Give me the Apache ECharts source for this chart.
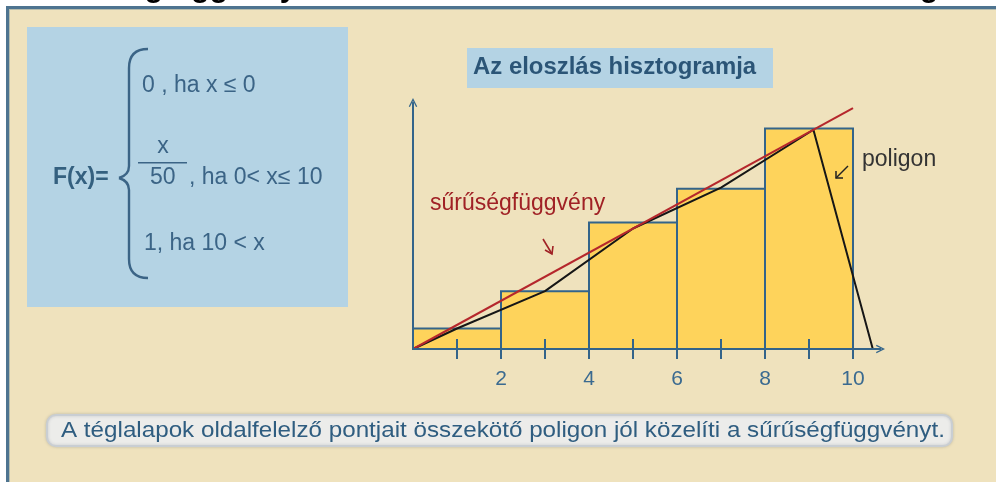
<!DOCTYPE html>
<html lang="hu">
<head>
  <meta charset="UTF-8">
  <title>Az eloszlás hisztogramja</title>
  <style>
    html, body { margin: 0; padding: 0; background: #fff; }
  </style>
</head>
<body>
  <div id="main" style="width:996px;height:482px;"></div>
  <script src="https://cdn.jsdelivr.net/npm/echarts@6/dist/echarts.min.js"></script>
  <script>
    // histogram bins (class edges) and bar heights
    var binEdges = [0, 2, 4, 6, 8, 10];
    var binHeights = [0.017, 0.048, 0.105, 0.133, 0.183];

    // polygon joining the midpoints of the bar tops
    var polygonX = [0, 1, 3, 5, 7, 9.1, 10.45];
    var polygonY = [0, 0.017, 0.048, 0.100, 0.134, 0.182, 0];

    // density f(x) = x/50
    var densityX = [0, 10];
    var densityY = [0, 0.2];

    var xTicks = [1, 2, 3, 4, 5, 6, 7, 8, 9, 10];
    var xLabels = [2, 4, 6, 8, 10];

    var blue = '#33648a';
    var braceBlue = '#3b6486';
    var font = '"Liberation Sans", Arial, sans-serif';

    var arrowPath = 'path://M0,10 L5,0 L10,10 L8.6,10.6 L5,3.2 L1.4,10.6 Z';

    var myChart = echarts.init(document.getElementById('main'));

    var bars = binHeights.map(function (h, i) {
      return [binEdges[i], binEdges[i + 1], h];
    });

    function braceCurve(x1, y1, cx, cy, x2, y2) {
      return {
        type: 'bezierCurve', z: -8,
        shape: { x1: x1, y1: y1, cpx1: cx, cpy1: cy, x2: x2, y2: y2 },
        style: { stroke: braceBlue, lineWidth: 2.4, fill: null }
      };
    }
    function braceLine(x1, y1, x2, y2) {
      return {
        type: 'line', z: -8,
        shape: { x1: x1, y1: y1, x2: x2, y2: y2 },
        style: { stroke: braceBlue, lineWidth: 2.4 }
      };
    }

    myChart.setOption({
      backgroundColor: '#ffffff',
      animation: false,
      grid: { left: 413, right: 115.5, top: 102.5, bottom: 133 },
      xAxis: [{
        type: 'value',
        min: 0,
        max: 10.625,
        splitLine: { show: false },
        axisLine: {
          lineStyle: { color: blue, width: 2 },
          symbol: ['none', arrowPath],
          symbolSize: [10, 9]
        },
        axisTick: { show: true, customValues: xTicks, length: 10, lineStyle: { color: blue, width: 2 } },
        axisLabel: {
          customValues: xLabels,
          color: '#3a6a90',
          fontSize: 21,
          fontFamily: font,
          margin: 20
        },
        z: 5
      }, {
        type: 'value',
        position: 'bottom',
        min: 0,
        max: 10.625,
        splitLine: { show: false },
        axisLine: { show: false },
        axisTick: { show: true, inside: true, customValues: xTicks, length: 10, lineStyle: { color: blue, width: 2 } },
        axisLabel: { show: false },
        z: 5
      }],
      yAxis: {
        type: 'value',
        min: 0,
        max: 0.2046,
        splitLine: { show: false },
        axisTick: { show: false },
        axisLabel: { show: false },
        axisLine: {
          show: true,
          lineStyle: { color: blue, width: 2 },
          symbol: ['none', arrowPath],
          symbolSize: [10, 9]
        },
        z: 5
      },
      series: [{
        type: 'custom',
        data: bars,
        encode: { x: [0, 1], y: 2 },
        renderItem: function (params, api) {
          var p0 = api.coord([api.value(0), api.value(2)]);
          var p1 = api.coord([api.value(1), 0]);
          return {
            type: 'rect',
            shape: { x: p0[0], y: p0[1], width: p1[0] - p0[0], height: p1[1] - p0[1] },
            style: { fill: '#fed35b', stroke: blue, lineWidth: 2 }
          };
        },
        z: 2
      }, {
        type: 'line',
        data: polygonX.map(function (x, i) { return [x, polygonY[i]]; }),
        showSymbol: false,
        lineStyle: { color: '#161616', width: 2 },
        z: 3
      }, {
        type: 'line',
        data: densityX.map(function (x, i) { return [x, densityY[i]]; }),
        showSymbol: false,
        lineStyle: { color: '#b5272c', width: 2 },
        z: 4
      }],
      graphic: [
        // clipped page title above the frame
        {
          type: 'text', x: 43, y: -11, z: -20,
          style: {
            text: 'Sűrűségfüggvény közelítése a mért adatokból készített hisztogrammal',
            font: 'bold 30px ' + font,
            fill: '#000',
            verticalAlign: 'middle'
          }
        },
        // frame
        { type: 'rect', shape: { x: 6, y: 6, width: 1000, height: 490 }, style: { fill: '#4e7490' }, z: -10 },
        { type: 'rect', shape: { x: 9, y: 9, width: 1000, height: 490 }, style: { fill: '#b7bcac' }, z: -10 },
        { type: 'rect', shape: { x: 10, y: 10, width: 1000, height: 490 }, style: { fill: '#efe2bd' }, z: -10 },
        // formula box
        { type: 'rect', shape: { x: 27, y: 27, width: 321, height: 280 }, style: { fill: '#b4d3e4' }, z: -9 },
        braceCurve(148, 49, 129, 49, 129, 68),
        braceLine(129, 68, 129, 166),
        braceCurve(129, 166, 129, 175, 119, 178),
        braceCurve(119, 178, 129, 181, 129, 190),
        braceLine(129, 190, 129, 259),
        braceCurve(129, 259, 129, 278, 148, 278),
        {
          type: 'text', x: 53, y: 178, z: -8,
          style: { text: 'F(x)=', font: 'bold 23px ' + font, fill: '#34607f', verticalAlign: 'middle' }
        },
        {
          type: 'text', x: 142, y: 86, z: -8,
          style: { text: '0 , ha x ≤ 0', font: '23px ' + font, fill: braceBlue, verticalAlign: 'middle' }
        },
        {
          type: 'text', x: 163, y: 147, z: -8,
          style: { text: 'x', font: '23px ' + font, fill: braceBlue, verticalAlign: 'middle', align: 'center' }
        },
        { type: 'rect', shape: { x: 138, y: 162, width: 49, height: 1.5 }, style: { fill: braceBlue }, z: -8 },
        {
          type: 'text', x: 150, y: 178, z: -8,
          style: { text: '50', font: '23px ' + font, fill: braceBlue, verticalAlign: 'middle' }
        },
        {
          type: 'text', x: 189, y: 178, z: -8,
          style: { text: ', ha 0< x≤ 10', font: '23px ' + font, fill: braceBlue, verticalAlign: 'middle' }
        },
        {
          type: 'text', x: 144, y: 244, z: -8,
          style: { text: '1, ha 10 < x', font: '23px ' + font, fill: braceBlue, verticalAlign: 'middle' }
        },
        // chart title
        { type: 'rect', shape: { x: 467, y: 48, width: 306, height: 40 }, style: { fill: '#b4d3e4' }, z: -9 },
        {
          type: 'text', x: 473, y: 68, z: -8, scaleX: 1.04,
          style: { text: 'Az eloszlás hisztogramja', font: 'bold 23px ' + font, fill: '#2b5577', verticalAlign: 'middle' }
        },
        // annotations
        {
          type: 'text', x: 430, y: 204, z: 10,
          style: { text: 'sűrűségfüggvény', font: '23px ' + font, fill: '#a02125', verticalAlign: 'middle' }
        },
        {
          type: 'polyline', z: 10,
          shape: { points: [[543, 239], [552, 254]] },
          style: { stroke: '#a02125', lineWidth: 1.6 }
        },
        {
          type: 'polyline', z: 10,
          shape: { points: [[545, 250], [552, 254], [553, 246]] },
          style: { stroke: '#a02125', lineWidth: 1.6 }
        },
        {
          type: 'text', x: 862, y: 160, z: 10,
          style: { text: 'poligon', font: '23px ' + font, fill: '#333', verticalAlign: 'middle' }
        },
        {
          type: 'polyline', z: 10,
          shape: { points: [[848, 166], [836, 178]] },
          style: { stroke: '#222', lineWidth: 1.5 }
        },
        {
          type: 'polyline', z: 10,
          shape: { points: [[836, 171], [836, 178], [843, 178]] },
          style: { stroke: '#222', lineWidth: 1.5 }
        },
        // caption
        {
          type: 'rect', z: -8,
          shape: { x: 47, y: 415, width: 905, height: 31, r: 9 },
          style: {
            fill: '#ececea', stroke: '#c9ced3', lineWidth: 2,
            shadowBlur: 3, shadowColor: 'rgba(120,130,140,0.35)'
          }
        },
        {
          type: 'text', x: 61, y: 431, z: -7, scaleX: 1.1,
          style: {
            text: 'A téglalapok oldalfelelző pontjait összekötő poligon jól közelíti a sűrűségfüggvényt.',
            font: '22px ' + font, fill: '#2f5d80', verticalAlign: 'middle'
          }
        }
      ]
    });
  </script>
</body>
</html>
